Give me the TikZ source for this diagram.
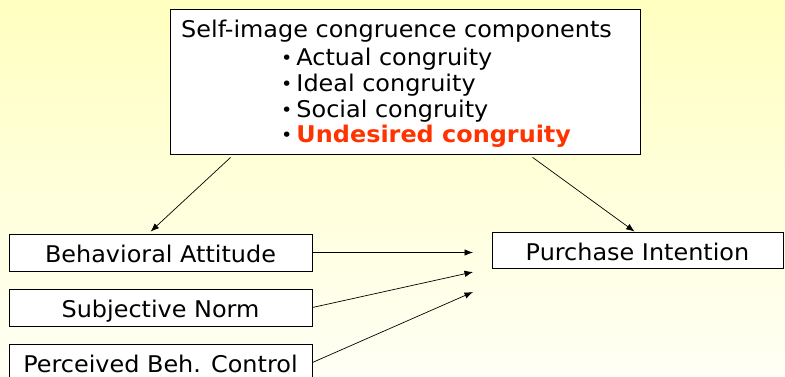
\documentclass[tikz,border=0pt]{standalone}
\usepackage{fontspec}
\setmainfont{DejaVu Sans}[FakeStretch=1.04]
\usetikzlibrary{arrows.meta,shadows}
\definecolor{bgtop}{HTML}{FFFFC0}
\definecolor{bgbot}{HTML}{FFFFF5}
\definecolor{hot}{HTML}{FF3300}
\newcommand{\bul}{\raisebox{0.5pt}{\scalebox{0.8}{•}}\hspace{4pt}}
\begin{document}
\begin{tikzpicture}[x=1pt,y=-1pt,
  every node/.style={font=\fontsize{23}{26}\selectfont},
  box/.style={draw=black, line width=0.8pt, fill=white, inner sep=0pt,
    text height=20pt, text depth=0pt,
    general shadow={fill=gray!80, shadow xshift=1.2pt, shadow yshift=-1.2pt}},
  txt/.style={inner sep=0pt, anchor=base west},
  arr/.style={-{Latex[length=8.5pt,width=6.5pt]}, line width=0.7pt}]
\useasboundingbox (0,0) rectangle (785,376);
\shade[top color=bgtop, bottom color=bgbot] (0,0) rectangle (785,376);
\clip (0,0) rectangle (785,376);
% top box
\node[box, minimum width=470pt, minimum height=145pt] (top) at (405,81.5) {};
\node[txt] (t0) at (181,37) {Self-image congruence components};
\node[txt] (t1) at (281,65) {\bul Actual congruity};
\node[txt] (t2) at (281,91) {\bul Ideal congruity};
\node[txt] (t3) at (281,117) {\bul Social congruity};
\node[txt] (t4) at (281,142) {\bul\textcolor{hot}{\bfseries Undesired congruity}};
% left boxes
\node[box, minimum width=303pt, minimum height=37pt] (BA) at (160.5,252.5) {Behavioral Attitude};
\node[box, minimum width=303pt, minimum height=37pt] (SN) at (160.5,307.5) {Subjective Norm};
\node[box, minimum width=303pt, minimum height=37pt] (PBC) at (160.5,362.5) {Perceived Beh. Control};
% right box
\node[box, minimum width=291pt, minimum height=36pt] (PI) at (637.5,250) {Purchase Intention};
% free ends
\coordinate (e1) at (473,252.5);
\coordinate (e2) at (473,272);
\coordinate (e3) at (473,292);
% connectors
\draw[arr] ([xshift=61pt,yshift=-3pt]top.south west) -- ([xshift=142pt,yshift=2pt]BA.north west);
\draw[arr] ([xshift=363pt,yshift=-3pt]top.south west) -- ([xshift=143pt]PI.north west);
\draw[arr] (BA.east) -- (e1);
\draw[arr] (SN.east) -- (e2);
\draw[arr] (PBC.east) -- (e3);
\end{tikzpicture}
\end{document}
